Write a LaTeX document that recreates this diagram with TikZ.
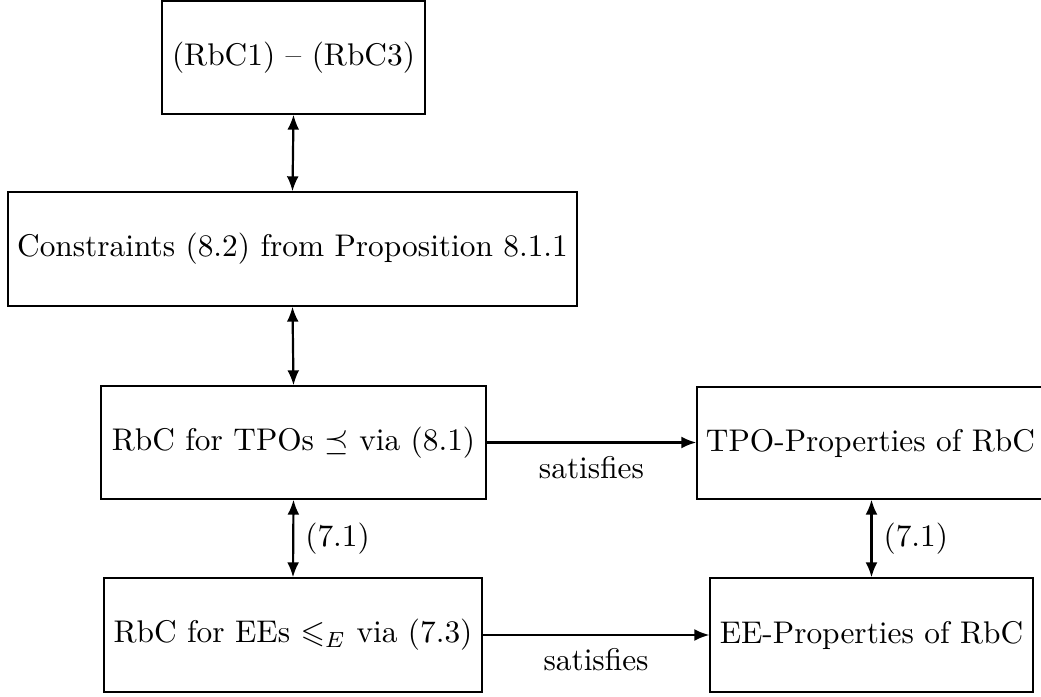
\documentclass[tikz,border=0pt]{standalone}
\usepackage{amssymb}
\usetikzlibrary{arrows.meta}
\begin{document}
\begin{tikzpicture}[x=0.319pt, y=-0.319pt,
  blk/.style={draw, inner sep=0pt, line width=0.4pt},
  link/.style={line width=0.7pt, {Latex[length=4.8pt,width=3.8pt]}-{Latex[length=4.8pt,width=3.8pt]}},
  oneway/.style={line width=0.7pt, -{Latex[length=4.8pt,width=3.8pt]}}]
  \useasboundingbox (0,0) rectangle (1041,697);

  \node[blk, minimum width=83.9pt, minimum height=36.05pt] (rbc) at (293.5,57.5) {(RbC1) -- (RbC3)};
  \node[blk, minimum width=181.5pt, minimum height=36.37pt] (cons) at (292.5,249) {Constraints (8.2) from Proposition 8.1.1};
  \node[blk, minimum width=122.8pt, minimum height=36.05pt] (tpo) at (293.5,442.5) {RbC for TPOs $\preceq$ via (8.1)};
  \node[blk, minimum width=120.6pt, minimum height=36.37pt] (ee) at (293,635) {RbC for EEs $\leqslant_E$ via (7.3)};
  % this box runs past the right edge of the page
  \node[blk, minimum width=120.6pt, minimum height=35.73pt] (tprop) at (886,443) {\hspace*{-9.9pt}TPO-Properties of RbC};
  \node[blk, minimum width=103pt, minimum height=36.37pt] (eprop) at (871.5,635) {EE-Properties of RbC};

  \draw[link] (rbc.south) -- (cons.north);
  \draw[link] (cons.south) -- (tpo.north);
  \draw[link] (tpo.south) -- node[right, inner sep=3.5pt] {(7.1)} (ee.north);
  \draw[link] (eprop.north |- tprop.south) -- node[right, inner sep=3.5pt] {(7.1)} (eprop.north);
  \draw[oneway] (tpo.east) -- node[below, inner sep=4pt] {satisfies} (tpo.east -| tprop.west);
  \draw[oneway] (ee.east) -- node[below, inner sep=4pt] {satisfies} (eprop.west);
\end{tikzpicture}
\end{document}
